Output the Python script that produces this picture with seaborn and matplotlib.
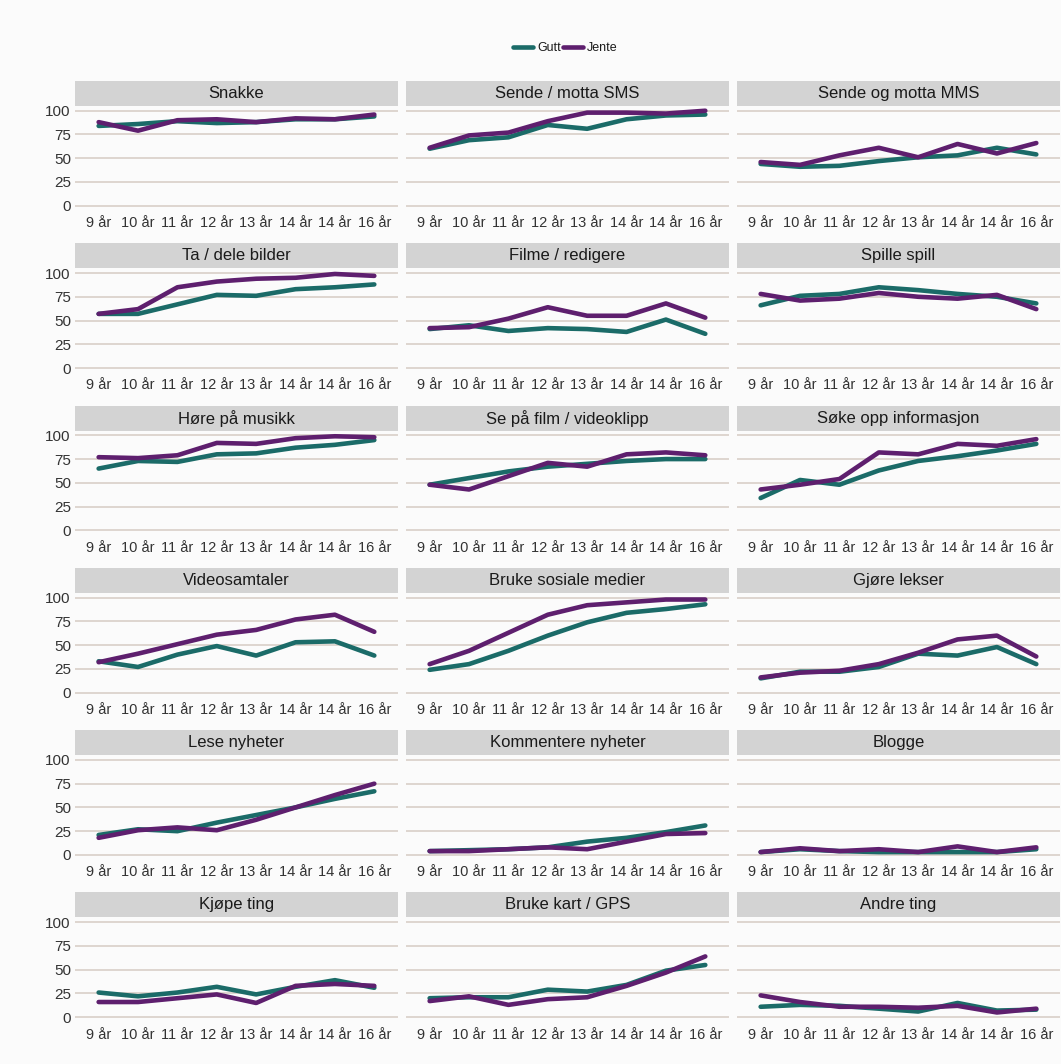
import numpy as np
import pandas as pd
import matplotlib
matplotlib.use("Agg")
import matplotlib.pyplot as plt
from matplotlib.patches import Rectangle
from matplotlib.lines import Line2D
import seaborn as sns

# ---- data -------------------------------------------------------------
age_labels = ["9 år", "10 år", "11 år", "12 år", "13 år", "14 år", "14 år", "16 år"]
genders = ["Gutt", "Jente"]
activities = ["Snakke", "Sende / motta SMS", "Sende og motta MMS",
              "Ta / dele bilder", "Filme / redigere", "Spille spill",
              "Høre på musikk", "Se på film / videoklipp", "Søke opp informasjon",
              "Videosamtaler", "Bruke sosiale medier", "Gjøre lekser",
              "Lese nyheter", "Kommentere nyheter", "Blogge",
              "Kjøpe ting", "Bruke kart / GPS", "Andre ting"]

gutt_snakke = [84, 86, 89, 87, 88, 91, 91, 94]
jente_snakke = [88, 79, 90, 91, 88, 92, 91, 96]
gutt_sms = [60, 69, 72, 85, 81, 91, 95, 96]
jente_sms = [61, 74, 77, 89, 98, 98, 97, 100]
gutt_mms = [44, 41, 42, 47, 51, 53, 61, 54]
jente_mms = [46, 43, 53, 61, 51, 65, 55, 66]
gutt_bilder = [57, 57, 67, 77, 76, 83, 85, 88]
jente_bilder = [57, 62, 85, 91, 94, 95, 99, 97]
gutt_filme = [41, 45, 39, 42, 41, 38, 51, 36]
jente_filme = [42, 43, 52, 64, 55, 55, 68, 53]
gutt_spill = [66, 76, 78, 85, 82, 78, 75, 68]
jente_spill = [78, 71, 73, 79, 75, 73, 77, 62]
gutt_musikk = [65, 73, 72, 80, 81, 87, 90, 95]
jente_musikk = [77, 76, 79, 92, 91, 97, 99, 98]
gutt_film = [48, 55, 62, 67, 70, 73, 75, 75]
jente_film = [48, 43, 57, 71, 67, 80, 82, 79]
gutt_info = [34, 53, 48, 63, 73, 78, 84, 91]
jente_info = [43, 48, 54, 82, 80, 91, 89, 96]
gutt_video = [33, 27, 40, 49, 39, 53, 54, 39]
jente_video = [32, 41, 51, 61, 66, 77, 82, 64]
gutt_sosiale = [24, 30, 44, 60, 74, 84, 88, 93]
jente_sosiale = [30, 44, 63, 82, 92, 95, 98, 98]
gutt_lekser = [15, 22, 22, 27, 41, 39, 48, 30]
jente_lekser = [16, 21, 23, 30, 42, 56, 60, 38]
gutt_lese = [21, 27, 25, 34, 42, 50, 59, 67]
jente_lese = [18, 26, 29, 26, 37, 50, 63, 75]
gutt_kommentere = [4, 5, 6, 8, 14, 18, 24, 31]
jente_kommentere = [4, 4, 6, 8, 6, 14, 22, 23]
gutt_blogge = [3, 6, 4, 3, 3, 3, 3, 6]
jente_blogge = [3, 7, 4, 6, 3, 9, 3, 8]
gutt_kjope = [26, 22, 26, 32, 24, 32, 39, 31]
jente_kjope = [16, 16, 20, 24, 15, 33, 35, 33]
gutt_kart = [20, 21, 21, 29, 27, 34, 49, 55]
jente_kart = [17, 22, 13, 19, 21, 33, 47, 64]
gutt_andre = [11, 13, 12, 9, 6, 15, 7, 8]
jente_andre = [23, 16, 11, 11, 10, 12, 5, 9]

gutt_series = [gutt_snakke, gutt_sms, gutt_mms, gutt_bilder, gutt_filme, gutt_spill,
               gutt_musikk, gutt_film, gutt_info, gutt_video, gutt_sosiale, gutt_lekser,
               gutt_lese, gutt_kommentere, gutt_blogge, gutt_kjope, gutt_kart, gutt_andre]
jente_series = [jente_snakke, jente_sms, jente_mms, jente_bilder, jente_filme, jente_spill,
                jente_musikk, jente_film, jente_info, jente_video, jente_sosiale, jente_lekser,
                jente_lese, jente_kommentere, jente_blogge, jente_kjope, jente_kart, jente_andre]

rows = []
for act, gv, jv in zip(activities, gutt_series, jente_series):
    for i, v in enumerate(gv):
        rows.append((act, "Gutt", i, v))
    for i, v in enumerate(jv):
        rows.append((act, "Jente", i, v))
df = pd.DataFrame(rows, columns=["aktivitet", "kjønn", "alder", "andel"])

# ---- style ------------------------------------------------------------
bg = "#fbfbfb"
sns.set_style("white")
plt.rcParams["font.family"] = ["Liberation Sans", "DejaVu Sans"]

palette = {"Gutt": "#1b6b68", "Jente": "#5e1f6e"}

g = sns.relplot(data=df, x="alder", y="andel", hue="kjønn", hue_order=genders,
                col="aktivitet", col_order=activities, col_wrap=3, kind="line",
                palette=palette, linewidth=3.3, legend=False,
                height=1.5, aspect=2.0, facet_kws=dict(sharex=True, sharey=True))

fig = g.figure
fig.set_size_inches(10.61, 10.64)
fig.set_dpi(100)
fig.patch.set_facecolor(bg)
fig.subplots_adjust(left=0.0707, right=0.999, top=0.9004, bottom=0.0395,
                    wspace=0.025, hspace=0.553)

for ax, act in zip(g.axes.flat, activities):
    ax.set_facecolor(bg)
    ax.set_xlim(-0.6, 7.6)
    ax.set_ylim(-5, 105)
    ax.set_yticks([0, 25, 50, 75, 100])
    ax.set_xticks(range(len(age_labels)))
    ax.set_xticklabels(age_labels)
    ax.tick_params(labelbottom=True, length=0, labelsize=10.5, colors="#333333", pad=4)
    ax.tick_params(axis="y", labelsize=11, pad=3)
    ax.grid(axis="y", color="#d6cbc4", linewidth=1.1)
    ax.grid(axis="x", visible=False)
    ax.set_axisbelow(True)
    for s in ax.spines.values():
        s.set_visible(False)
    ax.set_xlabel("")
    ax.set_ylabel("")
    ax.set_title("")
    # strip
    bbox = ax.get_position()
    ax_h_px = bbox.height * 1064
    sh = 25.0 / ax_h_px
    ax.add_patch(Rectangle((0, 1.0), 1, sh, transform=ax.transAxes,
                           facecolor="#d3d3d3", edgecolor="none", clip_on=False))
    ax.text(0.5, 1.0 + sh / 2, act, transform=ax.transAxes, ha="center", va="center",
            fontsize=12, color="#1a1a1a")

handles = [Line2D([0], [0], color=palette[k], lw=3.3) for k in genders]
fig.legend(handles, genders, loc="center", bbox_to_anchor=(0.533, 0.955), ncol=2,
           frameon=False, fontsize=9, handlelength=1.6, handletextpad=0.3,
           columnspacing=0.2, labelcolor="#1a1a1a")

fig.savefig("out.png", dpi=100, facecolor=bg)
